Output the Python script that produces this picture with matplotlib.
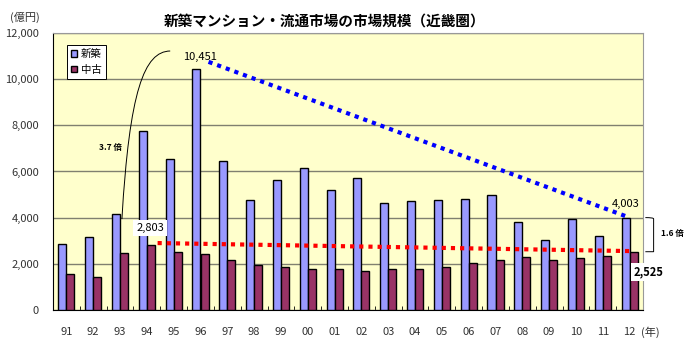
import numpy as np
import matplotlib.pyplot as plt
from matplotlib.path import Path
from matplotlib.patches import PathPatch, Patch
import matplotlib.transforms as mtransforms

plt.rcParams['font.family'] = ['Noto Sans CJK JP', 'DejaVu Sans']

years = ['91', '92', '93', '94', '95', '96', '97', '98', '99', '00', '01',
         '02', '03', '04', '05', '06', '07', '08', '09', '10', '11', '12']
shinchiku = [2870, 3170, 4170, 7760, 6540, 10451, 6440, 4770, 5620, 6170, 5210,
             5730, 4620, 4710, 4770, 4820, 5000, 3810, 3050, 3940, 3210, 4003]
chuko = [1570, 1440, 2460, 2803, 2530, 2410, 2180, 1960, 1850, 1790, 1760,
         1680, 1760, 1790, 1850, 2040, 2180, 2280, 2180, 2240, 2340, 2525]
yticks = [0, 2000, 4000, 6000, 8000, 10000, 12000]

fig = plt.figure(figsize=(7, 3.5), dpi=100)
ax = fig.add_axes([53/700, 1-310/350, 590/700, 277/350])
ax.set_facecolor('#FFFFCC')

x = np.arange(len(years))
w = 0.3
ax.bar(x - w/2, shinchiku, w, color='#9999FF', edgecolor='black', linewidth=1, zorder=3)
ax.bar(x + w/2, chuko, w, color='#993366', edgecolor='black', linewidth=1, zorder=3)

ax.set_xlim(-0.5, len(years) - 0.5)
ax.set_ylim(0, 12000)
ax.set_yticks(yticks)
ax.set_yticklabels([f'{v:,}' for v in yticks], fontsize=8, color='#333333')
ax.yaxis.grid(True, color='#808070', linewidth=1, zorder=0)
ax.set_xticks(x)
ax.set_xticklabels(years, fontsize=8, color='#333333')
ax.tick_params(axis='x', length=0, pad=12)
ax.set_xticks(np.arange(-0.5, len(years)), minor=True)
ax.tick_params(axis='x', which='minor', length=3, direction='in')
ax.tick_params(axis='y', length=0, pad=10)
for s in ['left', 'bottom']:
    ax.spines[s].set_color('black')
for s in ['top', 'right']:
    ax.spines[s].set_color('#999999')

# trend lines
ax.plot([5.3, 21], [10750, 4003], color='#0000FF', linestyle=(0, (1, 1.2)), linewidth=3, zorder=4)
ax.plot([3.4, 21.15], [2900, 2550], color='#FF0000', linestyle=(0, (1, 1.2)), linewidth=3, zorder=4)

# value labels
ax.text(4.99, 10960, '10,451', ha='center', va='center', fontsize=8, zorder=5)
ax.text(3.12, 3550, '2,803', ha='center', va='center', fontsize=8, zorder=5,
        bbox=dict(facecolor='white', edgecolor='none', pad=2))
ax.text(20.84, 4590, '4,003', ha='center', va='center', fontsize=8, zorder=5)
ax.text(21.7, 1650, '2,525', ha='center', va='center', fontsize=8, zorder=5,
        fontweight='bold', clip_on=False,
        bbox=dict(facecolor='white', edgecolor='none', pad=2))

# curved connector
verts = [(2.07, 3940), (2.35, 9500), (2.9, 11200), (3.87, 11220)]
ax.add_patch(PathPatch(Path(verts, [Path.MOVETO, Path.CURVE4, Path.CURVE4, Path.CURVE4]),
                       facecolor='none', edgecolor='black', linewidth=0.7, zorder=5))
ax.text(1.63, 7020, '3.7 倍', ha='center', va='center', fontsize=6, fontweight='bold')

# bracket on the right
trans = mtransforms.blended_transform_factory(ax.transAxes, ax.transData)
bverts = [(1.004, 4003), (1.018, 4003), (1.018, 3950), (1.018, 3850),
          (1.018, 2700), (1.018, 2600), (1.018, 2525), (1.004, 2525)]
bcodes = [Path.MOVETO, Path.CURVE3, Path.CURVE3, Path.LINETO,
          Path.LINETO, Path.CURVE3, Path.CURVE3, Path.LINETO]
bracket = PathPatch(Path(bverts, bcodes), facecolor='none', edgecolor='black',
                    linewidth=0.7, transform=trans, clip_on=False)
ax.add_patch(bracket)
ax.text(1.049, 3330, '1.6 倍', transform=trans, ha='center', va='center',
        fontsize=6, fontweight='bold', clip_on=False)

# legend
handles = [Patch(facecolor='#9999FF', edgecolor='black', label='新築'),
           Patch(facecolor='#993366', edgecolor='black', label='中古')]
leg = ax.legend(handles=handles, loc='upper left', bbox_to_anchor=(0.015, 0.975),
                fontsize=7.5, handlelength=0.6, handleheight=0.6, handletextpad=0.3,
                fancybox=False, framealpha=1, edgecolor='black', borderpad=0.4,
                labelspacing=0.5)
leg.get_frame().set_linewidth(0.7)

fig.text(325/700, 1-21/350, '新築マンション・流通市場の市場規模（近畿圏）',
         ha='center', va='center', fontsize=10.5, fontweight='bold')
fig.text(25/700, 1-17/350, '(億円)', ha='center', va='center', fontsize=8, color='#333333')
fig.text(650/700, 1-332/350, '(年)', ha='center', va='center', fontsize=8, color='#333333')

fig.savefig('out.png', dpi=100)
